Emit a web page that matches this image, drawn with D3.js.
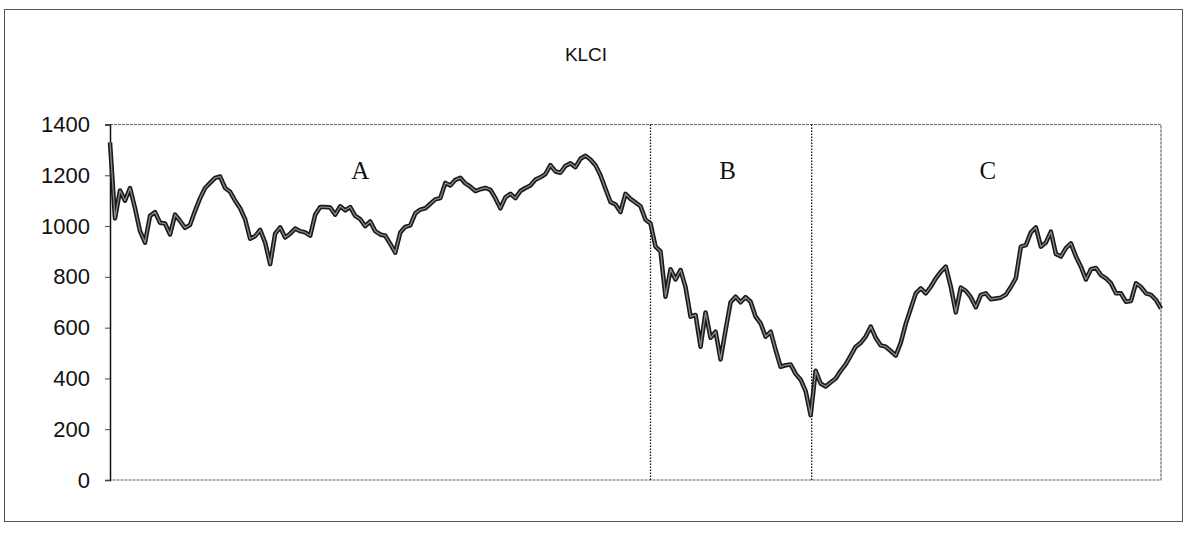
<!DOCTYPE html>
<html>
<head>
<meta charset="utf-8">
<script src="https://cdn.jsdelivr.net/npm/d3@7"></script>
<style>
  body { margin: 0; background: #fff; }
  svg { display: block; }
</style>
</head>
<body>
<svg></svg>
<script>
// chart size
const width = 1185,
  height = 535,
  margin = { top: 124.5, bottom: 55, left: 110, right: 23 };

// KLCI index level, sampled evenly along the period
const klci = [
  1330, 1030, 1140, 1100, 1150, 1070, 980, 935, 1040, 1055,
  1013, 1010, 967, 1045, 1020, 993, 1005, 1060, 1110, 1150,
  1170, 1190, 1195, 1150, 1135, 1100, 1070, 1027, 950, 960,
  985, 935, 850, 970, 995, 955, 970, 990, 980, 975,
  962, 1045, 1075, 1075, 1073, 1045, 1078, 1062, 1075, 1040,
  1027, 1000, 1018, 980, 967, 962, 930, 895, 975, 997,
  1003, 1050, 1065, 1070, 1088, 1105, 1110, 1170, 1160, 1182,
  1190, 1168, 1155, 1138, 1145, 1150, 1143, 1110, 1070, 1113,
  1127, 1110, 1138, 1150, 1160, 1183, 1192, 1205, 1240, 1215,
  1210, 1237, 1247, 1232, 1265, 1277, 1262, 1240, 1200, 1147,
  1095, 1085, 1055, 1127, 1107, 1093, 1078, 1025, 1010, 919,
  900, 722, 830, 790, 827, 760, 643, 650, 525, 660,
  560, 584, 475, 590, 700, 722, 700, 720, 702, 643,
  617, 564, 584, 512, 446, 452, 455, 418, 395, 350,
  255, 430, 380, 368, 385, 400, 430, 455, 490, 525,
  540, 565, 604, 560, 530, 525, 508, 490, 540, 615,
  675, 735, 755, 735, 761, 794, 820, 840, 761, 660,
  758, 745, 720, 680, 729, 735, 712, 715, 718, 730,
  760, 795, 919, 925, 975, 995, 919, 935, 978, 890,
  880, 913, 932, 880, 840, 790, 830, 835, 807, 794,
  775, 735, 735, 702, 705, 775, 760, 735, 729, 709,
  675
];

const yTicks = [0, 200, 400, 600, 800, 1000, 1200, 1400];
// period boundaries (sample index)
const dividers = [108, 140.2];
const periods = ['A', 'B', 'C'];
const periodLabelAt = [50, 123.4, 175.4];

const svg = d3.select('svg')
  .attr('width', width)
  .attr('height', height);

// outer chart border
svg.append('rect')
  .attr('x', 4.5).attr('y', 9.5)
  .attr('width', 1178).attr('height', 512)
  .attr('fill', 'none')
  .attr('stroke', '#555')
  .attr('stroke-width', 1);

svg.append('text')
  .attr('x', 586)
  .attr('y', 61)
  .attr('text-anchor', 'middle')
  .attr('font-family', 'Liberation Sans, Arial, sans-serif')
  .attr('font-size', 19)
  .attr('fill', '#111')
  .text('KLCI');

const x = d3.scaleLinear()
  .domain([0, klci.length - 1])
  .range([margin.left, width - margin.right - 1]);
const y = d3.scaleLinear()
  .domain([0, 1400])
  .range([height - margin.bottom, margin.top]);

// plot area frame (top, right, bottom)
const x0 = x.range()[0], x1 = x.range()[1];
svg.append('path')
  .attr('d', `M${x0},${y(1400)}H${x1}V${y(0)}H${x0}`)
  .attr('fill', 'none')
  .attr('stroke', '#666')
  .attr('stroke-width', 1.2)
  .attr('stroke-dasharray', '3,1');

// y axis
const yAxis = svg.append('g')
  .attr('transform', `translate(${x0},0)`)
  .call(d3.axisLeft(y).tickValues(yTicks).tickFormat(d3.format('d'))
    .tickSize(5).tickPadding(15));
yAxis.select('.domain').attr('stroke', '#111').attr('stroke-width', 1.5);
yAxis.selectAll('.tick line').attr('stroke', '#444');
yAxis.selectAll('.tick text')
  .attr('font-family', 'Liberation Sans, Arial, sans-serif')
  .attr('font-size', 22)
  .attr('fill', '#111');

// dotted period dividers
svg.selectAll('.divider')
  .data(dividers)
  .join('line')
  .attr('class', 'divider')
  .attr('x1', d => x(d)).attr('x2', d => x(d))
  .attr('y1', y(1400)).attr('y2', y(0))
  .attr('stroke', '#111')
  .attr('stroke-width', 1.3)
  .attr('stroke-dasharray', '1.5,1.5');

svg.selectAll('.period')
  .data(periods)
  .join('text')
  .attr('class', 'period')
  .attr('x', (d, i) => x(periodLabelAt[i]))
  .attr('y', 179)
  .attr('text-anchor', 'middle')
  .attr('font-family', 'Liberation Serif, Times New Roman, serif')
  .attr('font-size', 25)
  .attr('fill', '#111')
  .text(d => d);

const line = d3.line()
  .x((d, i) => x(i))
  .y(d => y(d));

// dark outline with a grey core, like the scanned print
svg.append('path')
  .datum(klci)
  .attr('fill', 'none')
  .attr('stroke', '#1a1a1a')
  .attr('stroke-width', 4.5)
  .attr('stroke-linejoin', 'round')
  .attr('d', line);
svg.append('path')
  .datum(klci)
  .attr('fill', 'none')
  .attr('stroke', '#8a8a8a')
  .attr('stroke-width', 1.3)
  .attr('stroke-linejoin', 'round')
  .attr('d', line);
</script>
</body>
</html>
